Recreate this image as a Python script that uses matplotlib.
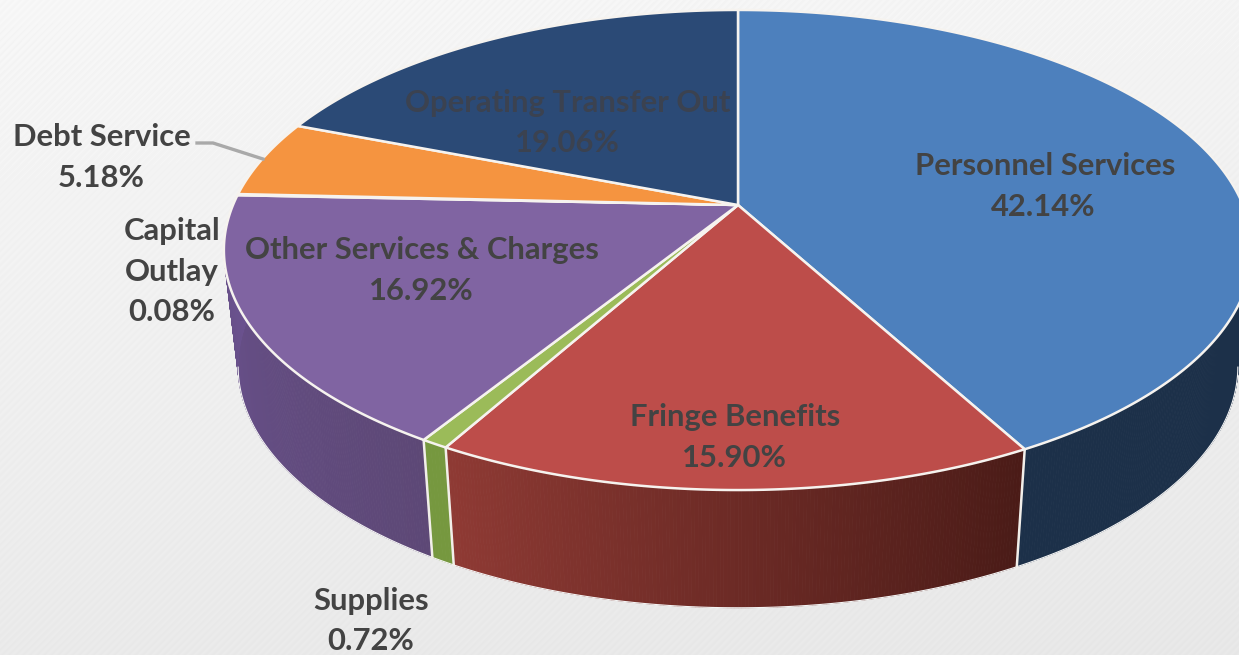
import numpy as np
import matplotlib
matplotlib.use("Agg")
import matplotlib.pyplot as plt
from matplotlib.patches import Polygon

plt.rcParams['font.family'] = ['Lato', 'DejaVu Sans']

categories = ["Personnel Services", "Fringe Benefits", "Supplies",
              "Other Services & Charges", "Capital Outlay", "Debt Service",
              "Operating Transfer Out"]
shares = [42.14, 15.90, 0.72, 16.92, 0.08, 5.18, 19.06]

top_colors = ["#4d80bd", "#bd4d4a", "#9bbb59", "#8064a2", "#4bacc6", "#f59440", "#2b4a76"]
wall_left = ["#1c3049", "#8f3a34", "#76983f", "#6b5290", "#3a8296", "#b86f30", "#1f3655"]
wall_right = ["#1c3049", "#4a1b17", "#76983f", "#5d4876", "#3a8296", "#b86f30", "#1f3655"]

# Perspective model of the disc: far side shrinks, near side grows
CX, TOP_Y, BOT_Y = 738.0, 205.0, 321.0
A, B, K = 505.0, 231.6, 0.1875
BOT_A, BOT_B = 491.0, 233.0


def rim(theta, lower=False):
    """Project clockwise-from-north angles (radians) onto the disc's top or bottom rim."""
    sx, cy = np.sin(theta), np.cos(theta)
    den = 1 + K * cy
    if lower:
        return CX + BOT_A * sx / den, BOT_Y - BOT_B * cy / den
    return CX + A * sx / den, TOP_Y - B * cy / den


def mix(c1, c2, t):
    a, b = np.array(matplotlib.colors.to_rgb(c1)), np.array(matplotlib.colors.to_rgb(c2))
    return tuple(a + (b - a) * t)


fig = plt.figure(figsize=(12.39, 6.55), dpi=100)
ax = fig.add_axes([0, 0, 1, 1])
ax.set_xlim(0, 1239)
ax.set_ylim(655, 0)
ax.axis("off")

# Pale grey backdrop with a fine diagonal weave
yy, xx = np.mgrid[0:655, 0:1239]
backdrop = 0.965 - 0.05 * (yy / 655) - 0.01 * (xx / 1239)
backdrop = backdrop + 0.006 * np.sin(2 * np.pi * (xx + yy) / 7.0)
ax.imshow(backdrop, cmap="gray", vmin=0, vmax=1, extent=(0, 1239, 655, 0),
          aspect="auto", zorder=0, interpolation="bilinear")

edges = np.radians(np.cumsum([0] + shares) * 3.6)
# Angles where the lower rim forms the outer silhouette of the wall
SIL_START, SIL_STOP = np.radians(101), np.radians(259)

# Side walls: only the part of the rim facing the viewer is drawn
for i in range(len(shares)):
    t0, t1 = edges[i], edges[i + 1]
    start, stop = max(t0, np.radians(75)), min(t1, np.radians(285))
    if stop <= start:
        continue
    ticks = np.linspace(start, stop, max(2, int(np.degrees(stop - start) * 3)))
    for j in range(len(ticks) - 1):
        a0, a1 = ticks[j], ticks[j + 1]
        ux0, uy0 = rim(a0)
        ux1, uy1 = rim(a1)
        lx0, ly0 = rim(a0, True)
        lx1, ly1 = rim(a1, True)
        # colours run left to right across the wall, so the ramp reverses with the angle
        frac = 1 - (j + 0.5) / (len(ticks) - 1)
        col = mix(wall_left[i], wall_right[i], frac)
        ax.add_patch(Polygon([(ux0, uy0), (ux1, uy1), (lx1, ly1), (lx0, ly0)],
                             closed=True, facecolor=col, edgecolor=col, lw=0.6, zorder=2))
    # faint highlight along the visible lower edge
    h0, h1 = max(start, SIL_START), min(stop, SIL_STOP)
    if h1 > h0:
        tt = np.linspace(h0, h1, 120)
        ax.plot(*rim(tt, True), color="#f4f4f4", lw=0.8, zorder=3)

# White seams where front slices meet on the wall
for e in edges:
    if np.radians(75) < e < np.radians(259):
        ux, uy = rim(np.array(e))
        lx, ly = rim(np.array(e), True)
        ax.plot([ux, lx], [uy, ly], color="#f2efea", lw=1.8, zorder=4)

# Top faces
for i in range(len(shares)):
    tt = np.linspace(edges[i], edges[i + 1], max(3, int(shares[i] * 12)))
    x, y = rim(tt)
    verts = np.column_stack([np.r_[CX, x], np.r_[TOP_Y, y]])
    ax.add_patch(Polygon(verts, closed=True, facecolor=top_colors[i], edgecolor="#f6f3ef",
                         lw=1.8, joinstyle="round", zorder=5))

# Leader line for the Debt Service label
ax.plot([197, 213, 263], [143, 143, 159], color="#a9a9a9", lw=2.4, zorder=6)

label_color = "#434343"
label_rows = [
    ("Personnel Services", 1045, 166, label_color),
    (f"{shares[0]:.2f}%", 1043, 207, label_color),
    ("Fringe Benefits", 735, 417, label_color),
    (f"{shares[1]:.2f}%", 734, 458, label_color),
    ("Supplies", 371, 601, label_color),
    (f"{shares[2]:.2f}%", 371, 641, label_color),
    ("Other Services & Charges", 422, 250, label_color),
    (f"{shares[3]:.2f}%", 421, 291, label_color),
    ("Capital", 172, 231, label_color),
    ("Outlay", 172, 272, label_color),
    (f"{shares[4]:.2f}%", 172, 312, label_color),
    ("Debt Service", 102, 137, label_color),
    (f"{shares[5]:.2f}%", 101, 178, label_color),
    ("Operating Transfer Out", 568, 103, "#3b4250"),
    (f"{shares[6]:.2f}%", 567, 143, "#3b4250"),
]
for text, px, py, col in label_rows:
    ax.text(px, py, text, ha="center", va="center", fontsize=22.3,
            fontweight="bold", color=col, zorder=7)

fig.savefig("out.png", dpi=100)
